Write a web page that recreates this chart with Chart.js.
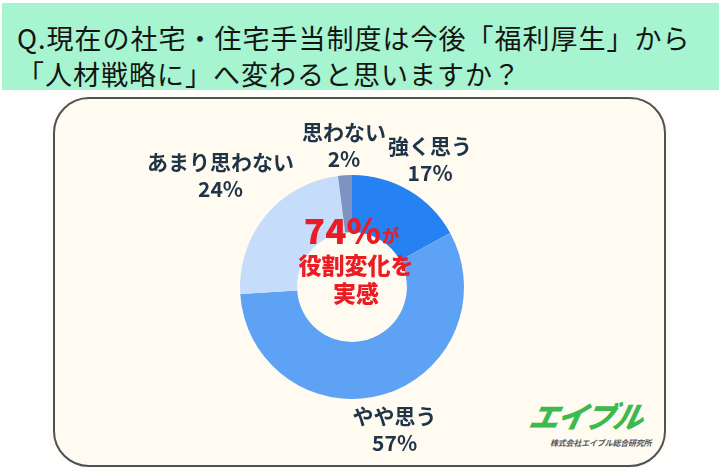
<!DOCTYPE html>
<html>
<head>
<meta charset="utf-8">
<script src="https://cdn.jsdelivr.net/npm/chart.js@4.4.0/dist/chart.umd.min.js"></script>
<style>
  html, body { margin: 0; padding: 0; background: #fff; }
  body { width: 724px; height: 473px; position: relative; overflow: hidden; font-family: "Noto Sans CJK JP", sans-serif; }
  .title { position: absolute; left: 2px; top: 3px; width: 717px; height: 87px; background: #a6f4d0; }
  .title div { position: absolute; left: 15px; font-size: 27px; line-height: 36px; letter-spacing: 1px; color: #141414; white-space: nowrap; }
  .box { position: absolute; left: 53px; top: 97px; width: 609px; height: 366px; border: 2px solid #4c5259; border-radius: 36px; background: #fffbf1; box-shadow: 0 0 6px 3px #fffbf2; }
  .logo { position: absolute; left: 530px; top: 393px; font-size: 30px; font-weight: 900; font-style: italic; color: #3db94f; letter-spacing: -2px; transform: skewX(-12deg); }
  .logo-sub { position: absolute; left: 550px; top: 437px; font-size: 8px; font-weight: 700; font-style: italic; color: #555; letter-spacing: -0.2px; }
  canvas { position: absolute; left: 0; top: 0; }
</style>
</head>
<body>
<div class="title">
  <div style="top:17px">Q.現在の社宅・住宅手当制度は今後「福利厚生」から</div>
  <div style="top:53px">「人材戦略に」へ変わると思いますか？</div>
</div>
<div class="box"></div>
<div class="logo">エイブル</div>
<div class="logo-sub">株式会社エイブル総合研究所</div>
<canvas id="myChart" width="724" height="473"></canvas>
<script>
// ── Data ──────────────────────────────────────────────────────────────────────
const categories = ["強く思う", "やや思う", "あまり思わない", "思わない"];
const values     = [17, 57, 24, 2];
const colors     = ["#2681f2", "#5ea2f6", "#c5dcfa", "#7e93c2"];

// label placement (radius factor, extra dx, dy) – layout only
const labelPos = [
  { k: 1.30, dx: 4,  dy: -3 },
  { k: 1.30, dx: 2,  dy: 2 },
  { k: 1.50, dx: -2, dy: -5 },
  { k: 1.28, dx: 1,  dy: 1 },
];

// ── Labels + centre text ──────────────────────────────────────────────────────
const overlay = {
  id: "overlay",
  afterDraw(chart) {
    const ctx  = chart.ctx;
    const arcs = chart.getDatasetMeta(0).data;
    ctx.save();
    ctx.textAlign = "center";
    ctx.textBaseline = "middle";
    ctx.fillStyle = "#1f3447";
    ctx.font = "700 21px 'Noto Sans CJK JP'";
    arcs.forEach((a, i) => {
      const mid = (a.startAngle + a.endAngle) / 2;
      const r   = a.outerRadius * labelPos[i].k;
      const x   = a.x + Math.cos(mid) * r + labelPos[i].dx;
      const y   = a.y + Math.sin(mid) * r + labelPos[i].dy;
      ctx.fillText(categories[i], x, y - 13);
      ctx.fillText(values[i] + "%", x, y + 14);
    });

    // centre
    const cx = arcs[0].x, cy = arcs[0].y;
    ctx.fillStyle = "#ec1c24";
    ctx.font = "900 35px 'Noto Sans CJK JP'";
    ctx.textAlign = "right";
    ctx.fillText("74%", cx + 29, cy - 56);
    ctx.textAlign = "left";
    ctx.font = "900 17px 'Noto Sans CJK JP'";
    ctx.fillText("が", cx + 30, cy - 51);
    ctx.textAlign = "center";
    ctx.font = "900 23px 'Noto Sans CJK JP'";
    ctx.fillText("役割変化を", cx + 4, cy - 22);
    ctx.fillText("実感", cx + 4, cy + 6);
    ctx.restore();
  },
};

new Chart(document.getElementById("myChart").getContext("2d"), {
  type: "doughnut",
  data: {
    labels: categories,
    datasets: [{ data: values, backgroundColor: colors, borderWidth: 0 }],
  },
  options: {
    responsive: false,
    animation: false,
    cutout: "49%",
    layout: { padding: { left: 240, right: 260, top: 175, bottom: 74 } },
    plugins: { legend: { display: false }, tooltip: { enabled: false } },
  },
  plugins: [overlay],
});
</script>
</body>
</html>
